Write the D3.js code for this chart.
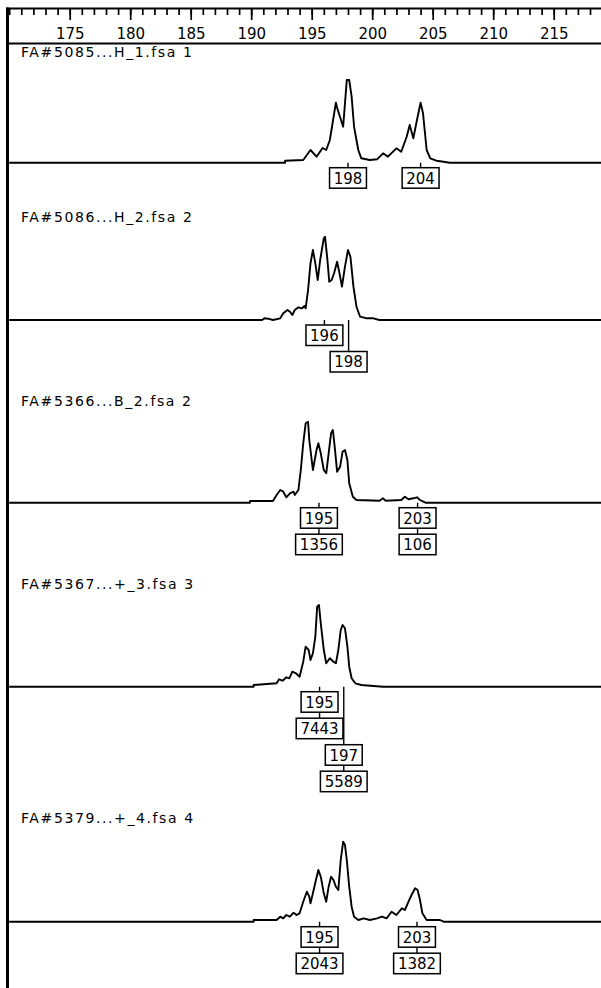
<!DOCTYPE html>
<html>
<head>
<meta charset="utf-8">
<script src="https://cdn.jsdelivr.net/npm/d3@7"></script>
<style>
  html, body { margin: 0; padding: 0; background: #fff; }
  svg { display: block; }
  text { font-family: "DejaVu Sans", sans-serif; fill: #000; }
</style>
</head>
<body>
<div id="chart"></div>
<script>
// Sample (file) names, one per panel
const sampleNames = [
    "FA#5085...H_1.fsa 1",
    "FA#5086...H_2.fsa 2",
    "FA#5366...B_2.fsa 2",
    "FA#5367...+_3.fsa 3",
    "FA#5379...+_4.fsa 4"
];

// Size ruler (bp)
const sizeTicks = [175, 180, 185, 190, 195, 200, 205, 210, 215];
const minorTicks = d3.range(170, 220);

// Traces: [size in bp, signal]
const trace1 = [[170,0],[192.8,0],[192.8,2],[194.3,2.7],[194.9,12.7],[195.4,6],[195.9,14.7],[196.2,12.7],[196.5,22.7],
    [197.0,60],[197.1,55],[197.6,36],[197.9,82.7],[198.1,82.7],[198.3,66],[198.5,36],[198.85,12.7],[199.1,4.4],
    [199.8,2.7],[200.4,3.4],[200.9,9.4],[201.3,6],[202.0,14.4],[202.4,11],[202.85,26],[203.1,37.7],[203.4,24.4],
    [203.7,42.7],[204.0,60],[204.2,49.4],[204.5,12.7],[204.8,4.4],[205.3,2],[205.9,1],[206.4,0],[219,0]];
const trace2 = [[170,0],[190.9,0],[191.1,1.7],[191.4,1.3],[191.8,0],[192.4,1.7],[192.65,6.7],[193.0,10],[193.2,8.3],
    [193.4,5],[193.6,10],[193.9,12.7],[194.2,11.7],[194.4,14],[194.5,11.7],[194.7,30],[194.9,56.7],[195.1,70],
    [195.3,56.7],[195.5,40],[195.7,60],[196.0,81.7],[196.1,83.3],[196.3,60],[196.45,38.3],[196.65,40],[196.85,46.7],
    [197.1,58.3],[197.3,46.7],[197.5,33.3],[197.75,53.3],[198.0,70],[198.2,63.3],[198.45,33.3],[198.7,13.3],
    [199.0,3.3],[199.55,1.7],[200.1,1.7],[200.6,0],[219,0]];
const trace3 = [[170,0],[189.9,0],[189.9,1.7],[191.8,1.7],[192.1,7.7],[192.4,12.7],[192.65,11],[192.9,5.4],[193.2,9.4],
    [193.5,11],[193.6,7.7],[193.9,12.7],[194.1,32.7],[194.3,59.4],[194.5,79.4],[194.7,81],[194.8,62.7],[195.0,42.7],
    [195.1,32.7],[195.4,52.7],[195.55,59.4],[195.75,49.4],[196.0,32.7],[196.2,29.4],[196.4,49.4],[196.6,69.4],
    [196.75,72.7],[196.9,56],[197.1,31],[197.35,36],[197.55,51],[197.75,52.7],[197.95,42.7],[198.1,19.4],
    [198.4,6],[198.7,2.7],[200.6,2],[200.9,4.4],[201.1,2],[202.4,2.7],[202.7,6],[203.0,3.4],[203.4,4.4],
    [203.7,5.4],[203.95,2.7],[204.4,0],[219,0]];
const trace4 = [[170,0],[190.2,0],[190.2,1.7],[192.1,3.4],[192.3,7.4],[192.6,6],[192.9,9.4],[193.15,8.4],[193.4,15],
    [193.7,13.4],[194.0,10],[194.3,25],[194.5,40],[194.75,36.7],[194.9,26.7],[195.1,33.4],[195.3,50],[195.45,80],
    [195.6,81.7],[195.75,63.4],[196.0,36.7],[196.2,23.4],[196.5,28.4],[196.8,25],[197.0,23.4],[197.2,36.7],
    [197.4,56.7],[197.55,61.7],[197.75,58.4],[197.95,40],[198.1,20],[198.3,8.4],[198.6,3.4],[199.1,1.7],
    [200.1,0.7],[200.9,0],[219,0]];
const trace5 = [[170,0],[190.2,0],[190.2,1.7],[192.1,1.7],[192.4,5],[192.65,3.4],[192.9,6.7],[193.2,5],[193.5,9],
    [193.75,6.7],[194.0,8.4],[194.3,20],[194.6,30],[194.8,25],[194.9,18.4],[195.1,28.4],[195.35,41.7],[195.55,51.7],
    [195.75,45],[196.0,28.4],[196.2,20],[196.4,35],[196.6,45],[196.8,41.7],[197.0,35],[197.2,31.7],[197.4,61.7],
    [197.6,80],[197.75,76.7],[197.9,61.7],[198.1,35],[198.3,15],[198.5,5],[198.85,1.7],[199.3,3.4],[199.8,1.7],
    [200.4,3.4],[200.8,5],[201.2,3.4],[201.6,10],[202.0,6.7],[202.45,13.4],[202.7,11.7],[203.0,20],[203.25,26.7],
    [203.55,33.4],[203.75,31.7],[203.95,21.7],[204.15,8.4],[204.5,1.7],[205.6,1.7],[205.9,0],[219,0]];
const traces = [trace1, trace2, trace3, trace4, trace5];

// Called peaks: position (bp), allele label, peak area
const peakSizes = [[198.0, 204.0], [196.05, 198.05], [195.6, 203.75], [195.65, 197.65], [195.65, 203.7]];
const alleleCalls = [["198", "204"], ["196", "198"], ["195", "203"], ["195", "197"], ["195", "203"]];
const peakAreas = [[null, null], [null, null], ["1356", "106"], ["7443", "5589"], ["2043", "1382"]];

// Layout
const width = 601, height = 988;
const panelLayout = [
    {title: 57, base: 162.7},
    {title: 222, base: 320},
    {title: 406, base: 502.7},
    {title: 589, base: 686.7},
    {title: 823, base: 921.7}
];
const boxH = 20.5, rowStep = 26.5, rowOffset = 5;

const svg = d3.select("#chart")
    .append("svg")
    .attr("width", width)
    .attr("height", height);

const x = d3.scaleLinear()
    .domain([170, 219])
    .range([9.2, 602.1]);

// Size ruler
const ruler = svg.append("g").attr("transform", "translate(0,9)");
ruler.append("g")
    .call(d3.axisBottom(x).tickValues(minorTicks).tickSize(6).tickFormat(""))
    .call(g => g.select(".domain").remove());
ruler.append("g")
    .call(d3.axisBottom(x).tickValues(sizeTicks).tickSize(11).tickPadding(8))
    .call(g => g.select(".domain").remove())
    .call(g => g.selectAll("text").style("font-size", "15px").style("font-family", "'DejaVu Sans', sans-serif"));
ruler.selectAll(".tick line").style("stroke", "#000").style("stroke-width", 1.7);

// Frame
svg.append("line").attr("x1", 6).attr("x2", width).attr("y1", 8.5).attr("y2", 8.5)
    .style("stroke", "#000").style("stroke-width", 2);
svg.append("line").attr("x1", 6).attr("x2", width).attr("y1", 43.5).attr("y2", 43.5)
    .style("stroke", "#000").style("stroke-width", 2);
svg.append("rect").attr("x", 6).attr("y", 7.5).attr("width", 3).attr("height", height)
    .style("fill", "#000");

// Panels
panelLayout.forEach((p, i) => {
    const g = svg.append("g").attr("class", "panel");

    g.append("text")
        .attr("x", 21)
        .attr("y", p.title)
        .style("font-size", "14px")
        .style("letter-spacing", "1.6px")
        .text(sampleNames[i]);

    const y = d3.scaleLinear().domain([0, 90]).range([p.base, p.base - 90]);

    const line = d3.line()
        .x(d => x(d[0]))
        .y(d => y(d[1]));

    g.append("path")
        .datum(traces[i])
        .attr("d", line)
        .style("fill", "none")
        .style("stroke", "#000")
        .style("stroke-width", 1.9)
        .style("stroke-linejoin", "round");

    // Peak label boxes (stacked down when they would overlap)
    let prevRight = -Infinity, nextRow = 0;
    peakSizes[i].forEach((s, j) => {
        const cx = x(s);
        const texts = [alleleCalls[i][j], peakAreas[i][j]].filter(t => t);
        const widths = texts.map(t => t.length * 9.8 + 7.5);
        const half = d3.max(widths) / 2;
        const row = (cx - half < prevRight) ? nextRow : 0;
        prevRight = cx + half;
        nextRow = row + texts.length;

        const lg = g.append("g").attr("class", "peak-label");
        const top0 = p.base + rowOffset + rowStep * row;
        lg.append("line")
            .attr("x1", cx).attr("x2", cx)
            .attr("y1", p.base).attr("y2", top0)
            .style("stroke", "#000").style("stroke-width", 1.4);

        texts.forEach((t, k) => {
            const top = top0 + rowStep * k;
            if (k > 0) {
                lg.append("line")
                    .attr("x1", cx).attr("x2", cx)
                    .attr("y1", top - rowStep + boxH).attr("y2", top)
                    .style("stroke", "#000").style("stroke-width", 1.4);
            }
            lg.append("rect")
                .attr("x", cx - widths[k] / 2)
                .attr("y", top)
                .attr("width", widths[k])
                .attr("height", boxH)
                .style("fill", "#fff")
                .style("stroke", "#000")
                .style("stroke-width", 1.5);
            lg.append("text")
                .attr("x", cx)
                .attr("y", top + 15.8)
                .attr("text-anchor", "middle")
                .style("font-size", "15px")
                .text(t);
        });
    });
});
</script>
</body>
</html>
